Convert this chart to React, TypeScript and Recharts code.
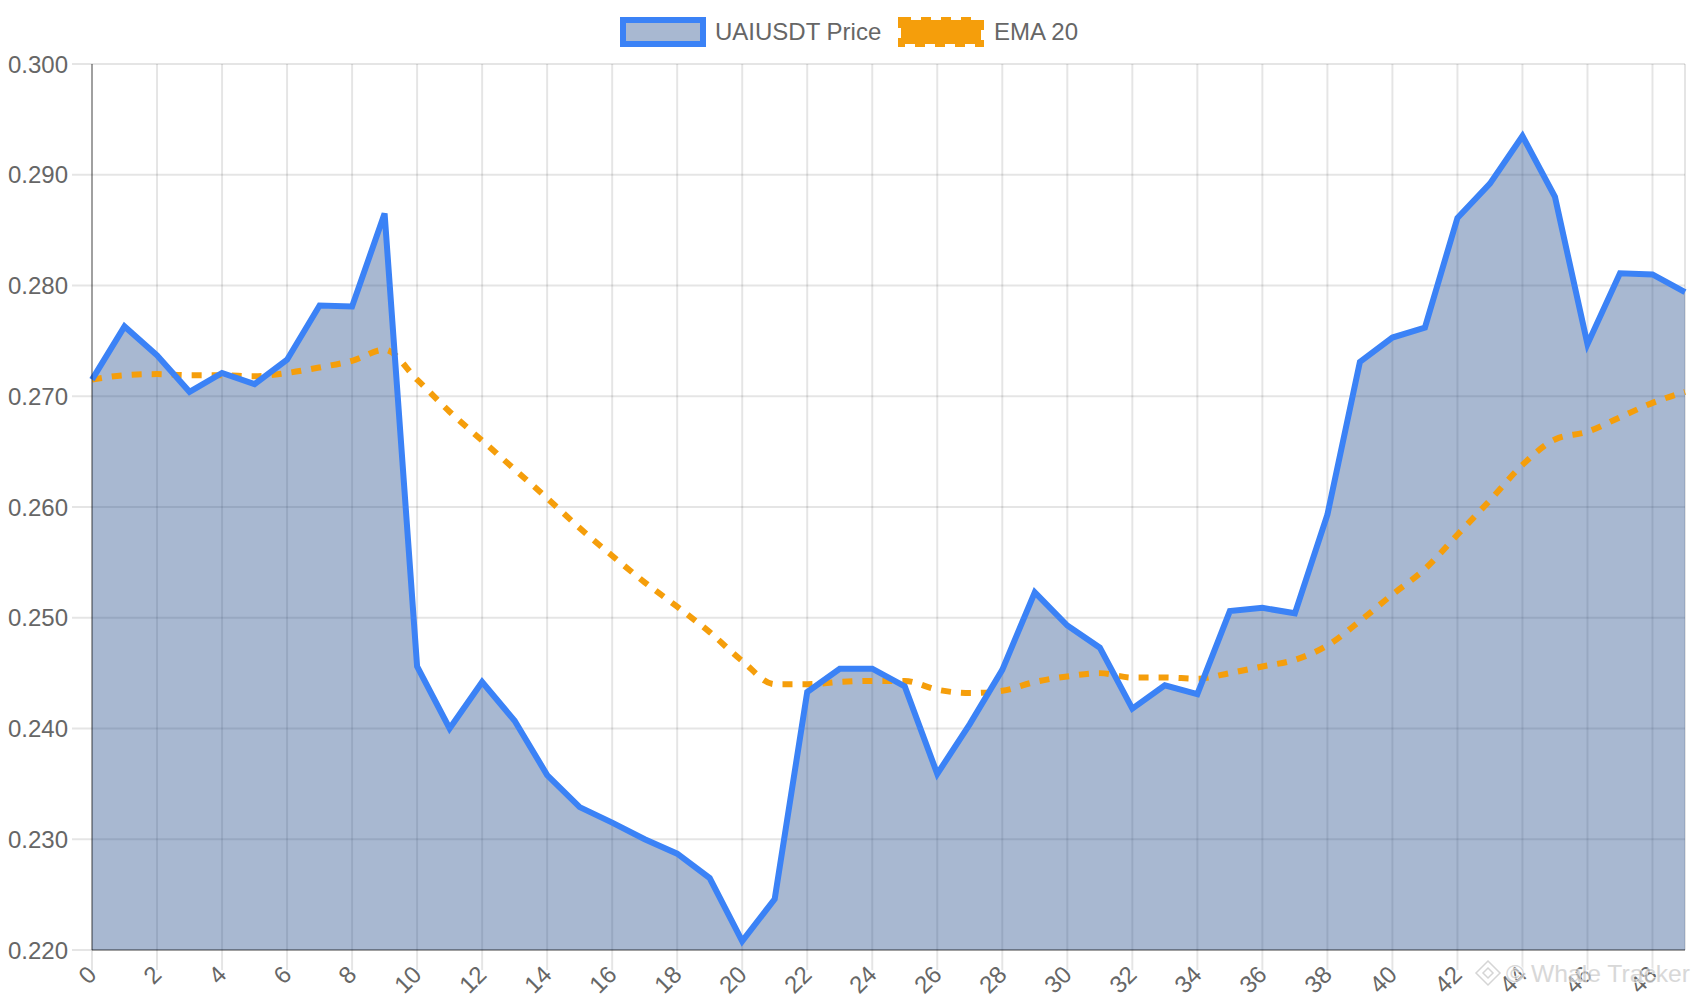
import React from "react";
import { ComposedChart, Area, Line, XAxis, YAxis, CartesianGrid } from "recharts";

const indices: number[] = Array.from({ length: 50 }, (_, i) => i);

const priceValues: number[] = [
  0.2715, 0.2763, 0.2737, 0.2704, 0.2721, 0.2711, 0.2733, 0.2782, 0.2781, 0.2865,
  0.2456, 0.2400, 0.2442, 0.2407, 0.2358, 0.2329, 0.2315, 0.2300, 0.2287, 0.2265,
  0.2208, 0.2246, 0.2433, 0.2454, 0.2454, 0.2438, 0.2359, 0.2404, 0.2453, 0.2523,
  0.2493, 0.2473, 0.2418, 0.2439, 0.2431, 0.2506, 0.2509, 0.2504, 0.2593, 0.2731,
  0.2753, 0.2762, 0.2861, 0.2892, 0.2935, 0.2880, 0.2747, 0.2811, 0.2810, 0.2794,
];

const emaValues: number[] = [
  0.2715, 0.2719, 0.2720, 0.2719, 0.2719, 0.2718, 0.2721, 0.2726, 0.2732, 0.2742,
  0.2715, 0.2686, 0.2660, 0.2634, 0.2608, 0.2581, 0.2556, 0.2532, 0.2510, 0.2487,
  0.2461, 0.2440, 0.2440, 0.2442, 0.2443, 0.2443, 0.2435, 0.2432, 0.2434, 0.2442,
  0.2447, 0.2450, 0.2446, 0.2446, 0.2445, 0.2450, 0.2456, 0.2462, 0.2475, 0.2497,
  0.2521, 0.2544, 0.2575, 0.2606, 0.2638, 0.2661, 0.2668, 0.2681, 0.2694, 0.2704,
];

const xTicks: number[] = [0, 2, 4, 6, 8, 10, 12, 14, 16, 18, 20, 22, 24, 26, 28, 30, 32, 34, 36, 38, 40, 42, 44, 46, 48];
const yTicks: number[] = [0.22, 0.23, 0.24, 0.25, 0.26, 0.27, 0.28, 0.29, 0.3];

const seriesNames = { price: "UAIUSDT Price", ema: "EMA 20" };
const watermarkText = "© Whale Tracker";

const data = indices.map((i) => ({ i, price: priceValues[i], ema: emaValues[i] }));

const FONT = '"Liberation Sans", Arial, Helvetica, sans-serif';
const TEXT = "#666666";
const BLUE = "#3b82f6";
const FILL = "#254e8c";
const ORANGE = "#f59e0b";
const GRID = "rgba(0,0,0,0.1)";
const AXIS = "rgba(0,0,0,0.3)";

const XTick = (props: any) => {
  const { x, y, payload } = props;
  return (
    <g transform={`translate(${x},${y}) rotate(-45)`}>
      <text x={0} y={0} dy="0.35em" textAnchor="end" fill={TEXT} fontSize={24} fontFamily={FONT}>
        {payload.value}
      </text>
    </g>
  );
};

export default function App() {
  return (
    <div style={{ position: "absolute", left: 0, top: 0, width: 1700, height: 1000, background: "#fff", fontFamily: FONT }}>
      <div style={{ position: "absolute", left: 0, top: 0 }}>
        <ComposedChart width={1700} height={1000} data={data} margin={{ top: 64, right: 15, bottom: 0, left: 0 }}>
          <CartesianGrid stroke={GRID} strokeWidth={2} />
          <XAxis
            dataKey="i"
            type="number"
            domain={[0, 49]}
            ticks={xTicks}
            interval={0}
            height={50}
            tickSize={20}
            tickMargin={0}
            tick={<XTick />}
            tickLine={{ stroke: GRID, strokeWidth: 2 }}
            axisLine={{ stroke: AXIS, strokeWidth: 2 }}
          />
          <YAxis
            type="number"
            domain={[0.22, 0.3]}
            ticks={yTicks}
            interval={0}
            width={92}
            tickSize={20}
            tickMargin={4}
            tickFormatter={(v: number) => v.toFixed(3)}
            tick={{ fill: TEXT, fontSize: 24, fontFamily: FONT }}
            tickLine={{ stroke: GRID, strokeWidth: 2 }}
            axisLine={{ stroke: AXIS, strokeWidth: 2 }}
          />
          <Area
            type="linear"
            dataKey="price"
            name={seriesNames.price}
            stroke="none"
            fill={FILL}
            fillOpacity={0.4}
            isAnimationActive={false}
            dot={false}
            activeDot={false}
          />
          <Line
            type="monotone"
            dataKey="ema"
            name={seriesNames.ema}
            stroke={ORANGE}
            strokeWidth={6}
            strokeDasharray="10 10"
            dot={false}
            activeDot={false}
            isAnimationActive={false}
          />
          <Line
            type="linear"
            dataKey="price"
            name={seriesNames.price}
            stroke={BLUE}
            strokeWidth={6}
            strokeLinejoin="miter"
            dot={false}
            activeDot={false}
            isAnimationActive={false}
            legendType="none"
          />
        </ComposedChart>
      </div>

      <svg width={1700} height={1000} style={{ position: "absolute", left: 0, top: 0, pointerEvents: "none" }}>
        <g opacity={0.7}>
          <g transform="translate(1488,973)" fill="none" stroke="#ffffff" strokeWidth={4}>
            <polygon points="0,-12 12,0 0,12 -12,0" />
            <polygon points="0,-5 5,0 0,5 -5,0" />
          </g>
          <g transform="translate(1488,973)" fill="none" stroke="#c4c4c4" strokeWidth={1.5}>
            <polygon points="0,-12 12,0 0,12 -12,0" />
            <polygon points="0,-5 5,0 0,5 -5,0" />
          </g>
          <text x={1506} y={974} dy="0.35em" fontSize={24} fontFamily={FONT} fill="#c8c8c8" stroke="#ffffff" strokeWidth={2} paintOrder="stroke" textLength={184} lengthAdjust="spacingAndGlyphs">
            {watermarkText}
          </text>
        </g>
      </svg>

      <svg width={1700} height={70} style={{ position: "absolute", left: 0, top: 0 }}>
        <rect x={623} y={20} width={80} height={24} fill={FILL} fillOpacity={0.4} stroke={BLUE} strokeWidth={6} />
        <text x={715} y={32} dy="0.35em" fill={TEXT} fontSize={24} fontFamily={FONT}>{seriesNames.price}</text>
        <rect x={901} y={20} width={80} height={24} fill={ORANGE} stroke={ORANGE} strokeWidth={6} strokeDasharray="10 10" />
        <text x={994} y={32} dy="0.35em" fill={TEXT} fontSize={24} fontFamily={FONT}>{seriesNames.ema}</text>
      </svg>
    </div>
  );
}
